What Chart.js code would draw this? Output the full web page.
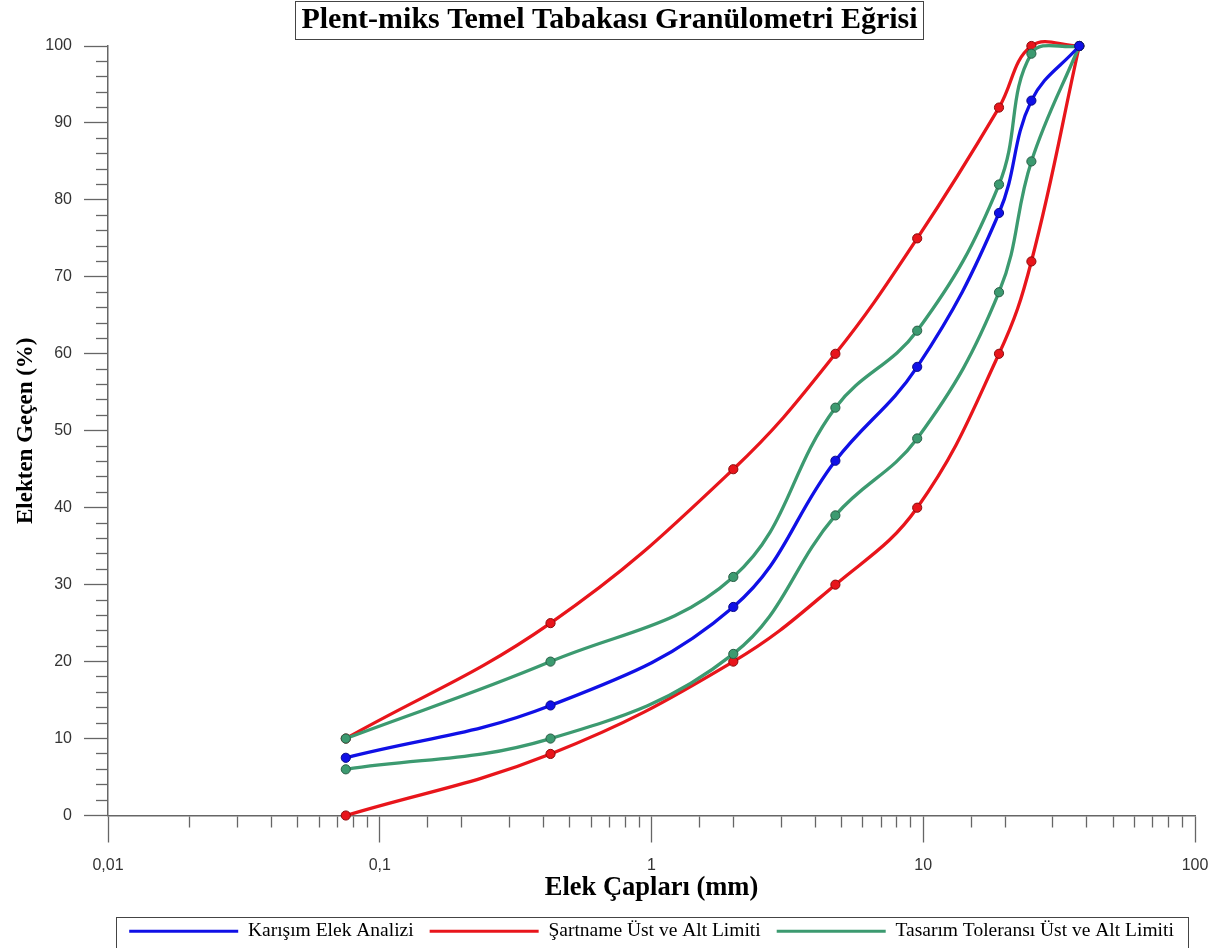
<!DOCTYPE html>
<html>
<head>
<meta charset="utf-8">
<script src="https://cdn.jsdelivr.net/npm/chart.js@4.4.1/dist/chart.umd.min.js"></script>
<style>
  html, body { margin: 0; padding: 0; background: #ffffff; }
  #wrap { width: 1224px; height: 948px; }
</style>
</head>
<body>
<div id="wrap"><canvas id="chart" width="1224" height="948"></canvas></div>
<script>
// Sieve openings (mm) and percent passing for each gradation curve
const sieveSizes = [0.075, 0.425, 2, 4.75, 9.5, 19, 25, 37.5];
const mixPassing = [7.5, 14.3, 27.1, 46.1, 58.3, 78.3, 92.9, 100];
const specUpper  = [10, 25, 45, 60, 75, 92, 100, 100];
const specLower  = [0, 8, 20, 30, 40, 60, 72, 100];
const tolUpper   = [10, 20, 31, 53, 63, 82, 99, 100];
const tolLower   = [6, 10, 21, 39, 49, 68, 85, 100];

// Axis labelling
const xMajorTicks = [0.01, 0.1, 1, 10, 100];
const xTickLabels = ['0,01', '0,1', '1', '10', '100'];
const legendLabels = ['Karışım Elek Analizi', 'Şartname Üst ve Alt Limiti', 'Tasarım Toleransı Üst ve Alt Limiti'];

const BLUE = '#1010e6', RED = '#e8151b', GREEN = '#3c9a70';
const SERIF = "'Liberation Serif', 'Times New Roman', serif";
const SANS = "'Liberation Sans', Arial, sans-serif";

const toPoints = (ys) => sieveSizes.map((x, i) => ({ x: x, y: ys[i] }));

function curve(values, color, edge, order) {
  return {
    data: toPoints(values),
    borderColor: color,
    backgroundColor: color,
    borderWidth: 3.3,
    pointRadius: 4.6,
    pointBackgroundColor: color,
    pointBorderColor: edge,
    pointBorderWidth: 1,
    tension: 0.4,
    cubicInterpolationMode: 'default',
    capBezierPoints: false,
    clip: false,
    fill: false,
    order: order
  };
}

const isDecade = (v) => {
  const l = Math.log10(v);
  return Math.abs(l - Math.round(l)) < 1e-6;
};

// Frames around the title and the legend
const framePlugin = {
  id: 'frames',
  afterDraw(chart) {
    const ctx = chart.ctx;
    ctx.save();
    ctx.strokeStyle = '#444';
    ctx.lineWidth = 1;
    const t = chart.titleBlock;
    if (t) {
      const tf = Chart.helpers.toFont(chart.options.plugins.title.font);
      ctx.font = tf.string;
      const w = ctx.measureText(chart.options.plugins.title.text).width;
      const cx = (t.left + t.right) / 2;
      ctx.strokeRect(Math.round(cx - w / 2 - 6) + 0.5, 1.5, Math.round(w + 12), 38);
    }
    const lg = chart.legend;
    if (lg) {
      ctx.strokeRect(Math.round(lg.left + 8) + 0.5, Math.round(lg.top + 11) + 0.5,
                     Math.round(lg.width - 15), 31);
    }
    ctx.restore();
  }
};

new Chart(document.getElementById('chart'), {
  type: 'line',
  data: {
    datasets: [
      curve(mixPassing, BLUE, '#0a0a8a', 0),
      curve(tolUpper, GREEN, '#2a5e46', 1),
      curve(tolLower, GREEN, '#2a5e46', 1),
      curve(specUpper, RED, '#8a0c0c', 2),
      curve(specLower, RED, '#8a0c0c', 2)
    ]
  },
  options: {
    responsive: false,
    animation: false,
    events: [],
    layout: { padding: { top: 0, right: 17, bottom: -3, left: 12 } },
    plugins: {
      tooltip: { enabled: false },
      title: {
        display: true,
        text: 'Plent-miks Temel Tabakası Granülometri Eğrisi',
        color: '#000',
        font: { family: SERIF, size: 30, weight: 'bold', lineHeight: 1.2 },
        padding: { top: 2, bottom: 8 }
      },
      legend: {
        display: true,
        position: 'bottom',
        fullSize: false,
        labels: {
          boxWidth: 109,
          boxHeight: 3,
          padding: 16,
          color: '#111',
          font: { family: SERIF, size: 19.5 },
          generateLabels: () => [BLUE, RED, GREEN].map((c, i) => ({
            text: legendLabels[i],
            fillStyle: c,
            strokeStyle: c,
            lineWidth: 0,
            hidden: false,
            datasetIndex: i
          }))
        }
      }
    },
    scales: {
      x: {
        type: 'logarithmic',
        position: 'bottom',
        min: 0.01,
        max: 100,
        border: { display: true, color: '#666', width: 1.5 },
        grid: {
          drawOnChartArea: false,
          drawTicks: true,
          tickLength: 27,
          tickColor: '#666',
          tickWidth: 1.3,
          tickBorderDash: (ctx) => (ctx.tick && isDecade(ctx.tick.value)) ? [] : [11, 200],
          tickBorderDashOffset: 0
        },
        ticks: {
          autoSkip: false,
          maxRotation: 0,
          padding: 13,
          color: '#333',
          font: { family: SANS, size: 16 },
          callback: (v) => {
            const i = xMajorTicks.findIndex((t) => Math.abs(Math.log10(t) - Math.log10(v)) < 1e-6);
            return i >= 0 ? xTickLabels[i] : '';
          }
        },
        title: {
          display: true,
          text: 'Elek Çapları (mm)',
          color: '#000',
          font: { family: SERIF, size: 26.5, weight: 'bold', lineHeight: 1.2 },
          padding: { top: 0, bottom: 1.5 }
        },
        afterFit: (s) => { s.height = 90; s.paddingLeft = 0; s.paddingRight = 29; }
      },
      y: {
        type: 'linear',
        min: 0,
        max: 100,
        border: { display: true, color: '#666', width: 1.5 },
        grid: {
          drawOnChartArea: false,
          drawTicks: true,
          tickLength: 24,
          tickColor: '#666',
          tickWidth: 1.3,
          tickBorderDash: (ctx) => (ctx.tick && Math.round(ctx.tick.value) % 10 === 0) ? [] : [12, 12],
          tickBorderDashOffset: (ctx) => (ctx.tick && Math.round(ctx.tick.value) % 10 === 0) ? 0 : 12
        },
        ticks: {
          stepSize: 2,
          autoSkip: false,
          padding: 12,
          color: '#333',
          font: { family: SANS, size: 16 },
          callback: (v) => (Math.round(v) % 10 === 0 ? String(Math.round(v)) : '')
        },
        title: {
          display: true,
          text: 'Elekten Geçen (%)',
          color: '#000',
          font: { family: SERIF, size: 23, weight: 'bold', lineHeight: 1.2 },
          padding: { top: 0, bottom: 0 }
        },
        afterFit: (s) => { s.width = 96; s.paddingTop = 0; s.paddingBottom = 0; }
      }
    }
  },
  plugins: [framePlugin]
});
</script>
</body>
</html>
